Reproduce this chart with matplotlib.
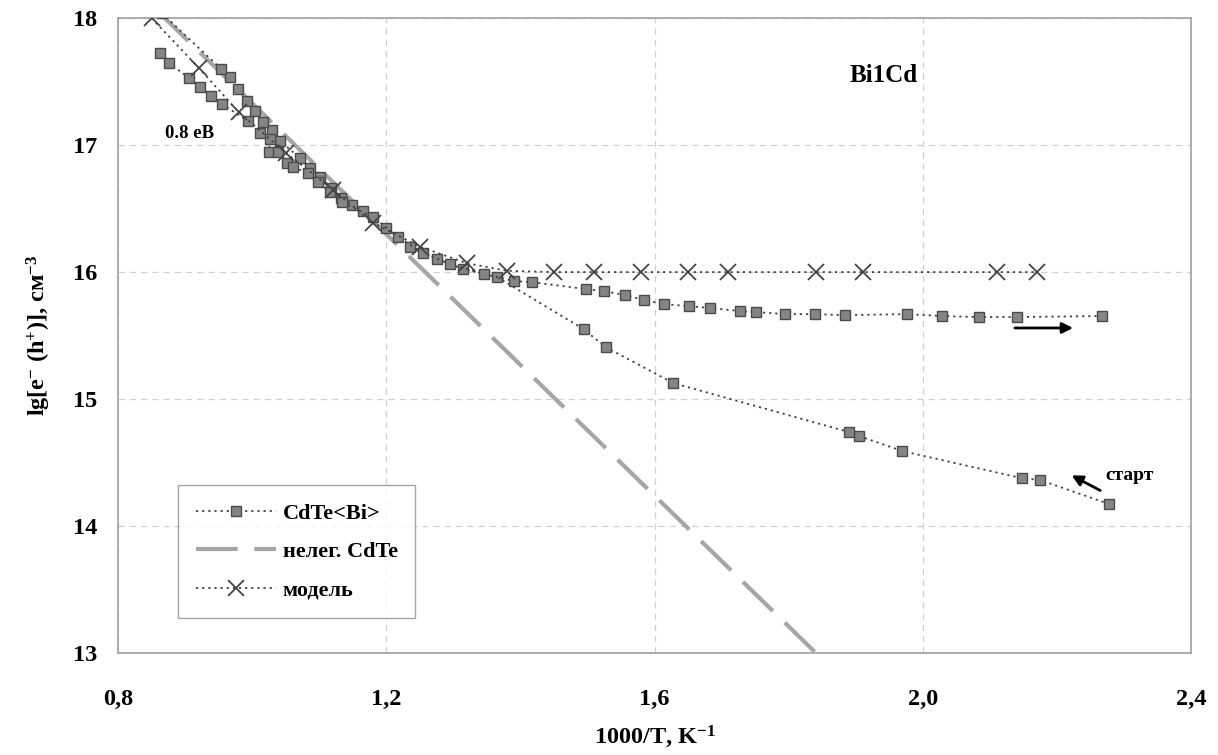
import matplotlib
matplotlib.use("Agg")
import matplotlib.pyplot as plt

plt.rcParams['font.family'] = ['Liberation Serif', 'DejaVu Serif']
plt.rcParams['font.weight'] = 'bold'
plt.rcParams['mathtext.fontset'] = 'custom'
plt.rcParams['mathtext.rm'] = 'Liberation Serif:bold'
plt.rcParams['mathtext.bf'] = 'Liberation Serif:bold'
plt.rcParams['mathtext.it'] = 'Liberation Serif:bold'

# CdTe<Bi> heating branch (from start, right to left)
heat_x = [2.278, 2.175, 2.147, 1.969, 1.905, 1.890, 1.628, 1.527, 1.494, 1.365,
          1.314, 1.276, 1.235, 1.200, 1.165, 1.149, 1.133, 1.118, 1.101, 1.086,
          1.071, 1.042, 1.030, 1.016, 1.004, 0.992, 0.979, 0.967, 0.954, 0.865]
heat_y = [14.173, 14.362, 14.378, 14.591, 14.709, 14.740, 15.126, 15.409, 15.551, 15.961,
          16.024, 16.102, 16.197, 16.346, 16.480, 16.528, 16.583, 16.661, 16.748, 16.819,
          16.898, 17.031, 17.118, 17.181, 17.268, 17.346, 17.441, 17.535, 17.598, 18.04]

# CdTe<Bi> cooling branch (left to right)
cool_x = [0.863, 0.876, 0.906, 0.922, 0.939, 0.955, 0.994, 1.012, 1.027, 1.025,
          1.039, 1.052, 1.061, 1.083, 1.098, 1.116, 1.134, 1.180, 1.218, 1.255,
          1.295, 1.346, 1.391, 1.417, 1.498, 1.525, 1.556, 1.584, 1.614, 1.651,
          1.683, 1.728, 1.751, 1.795, 1.839, 1.884, 1.977, 2.029, 2.084, 2.141, 2.267]
cool_y = [17.724, 17.646, 17.528, 17.457, 17.386, 17.323, 17.189, 17.094, 17.047, 16.945,
          16.945, 16.858, 16.827, 16.780, 16.709, 16.630, 16.551, 16.433, 16.276, 16.150,
          16.063, 15.984, 15.929, 15.921, 15.866, 15.850, 15.819, 15.780, 15.748, 15.732,
          15.717, 15.693, 15.685, 15.669, 15.669, 15.661, 15.669, 15.654, 15.646, 15.646, 15.654]

# undoped CdTe (straight line)
undoped_x = [0.86, 1.86]
undoped_y = [18.05, 12.90]

# model
model_x = [0.85, 0.92, 0.98, 1.05, 1.12, 1.18, 1.25, 1.32, 1.38, 1.45,
           1.51, 1.58, 1.65, 1.71, 1.84, 1.91, 2.11, 2.17]
model_y = [18.0, 17.61, 17.26, 16.94, 16.65, 16.39, 16.20, 16.07, 16.01, 16.0,
           16.0, 16.0, 16.0, 16.0, 16.0, 16.0, 16.0, 16.0]

x_ticks = [0.8, 1.2, 1.6, 2.0, 2.4]
x_tick_labels = ['0,8', '1,2', '1,6', '2,0', '2,4']
y_ticks = [13, 14, 15, 16, 17, 18]

fig = plt.figure(figsize=(12.18, 7.55), dpi=100)
ax = fig.add_axes([0.0969, 0.135, 0.8811, 0.841])

sq = dict(color='#404040', linestyle=(0, (1.2, 2.2)), linewidth=1.3,
          marker='s', markersize=7.5, markerfacecolor='#858585',
          markeredgecolor='#4a4a4a', markeredgewidth=1.0)
ax.plot(heat_x, heat_y, label='CdTe<Bi>', zorder=4, **sq)
ax.plot(cool_x, cool_y, zorder=4, **sq)

ax.plot(undoped_x, undoped_y, color='#a6a6a6', linewidth=3,
        linestyle=(0, (10, 4)), label='нелег. CdTe', zorder=3)

ax.plot(model_x, model_y, color='#404040', linestyle=(0, (1.2, 2.2)), linewidth=1.3,
        marker='x', markersize=12, markeredgewidth=1.3, markeredgecolor='#454545',
        label='модель', zorder=5)

ax.set_xlim(0.8, 2.4)
ax.set_ylim(13, 18)
ax.set_xticks(x_ticks)
ax.set_xticklabels(x_tick_labels)
ax.set_yticks(y_ticks)
ax.tick_params(length=0, labelsize=17.5)
ax.tick_params(axis='x', pad=26)
ax.tick_params(axis='y', pad=15)
for lab in ax.get_xticklabels() + ax.get_yticklabels():
    lab.set_fontweight('bold')

ax.grid(True, color='#d0d0d0', linestyle=(0, (5, 4)), linewidth=0.9)
for s in ax.spines.values():
    s.set_color('#a0a0a0')
    s.set_linewidth(1.2)

ax.set_xlabel('1000/T, K$^{-1}$', fontsize=17.5, fontweight='bold', labelpad=10)
ax.set_ylabel('lg[e$^{-}$ (h$^{+}$)], см$^{-3}$', fontsize=17.5, fontweight='bold', labelpad=14)

ax.text(1.89, 17.55, 'Bi1Cd', fontsize=18, fontweight='bold', ha='left', va='center')
ax.text(0.87, 17.09, '0.8 еВ', fontsize=13.5, fontweight='bold', ha='left', va='center')
ax.text(2.272, 14.40, 'старт', fontsize=14, fontweight='bold', ha='left', va='center')

ax.annotate('', xy=(2.218, 14.41), xytext=(2.268, 14.27),
            arrowprops=dict(arrowstyle='-|>', color='black', lw=2, mutation_scale=16))
ax.annotate('', xy=(2.228, 15.56), xytext=(2.133, 15.56),
            arrowprops=dict(arrowstyle='-|>', color='black', lw=2, mutation_scale=16))

leg = ax.legend(loc='lower left', bbox_to_anchor=(0.056, 0.055), fontsize=16,
                handlelength=3.6, frameon=True, fancybox=False, borderpad=0.8,
                labelspacing=0.8, handletextpad=0.3, borderaxespad=0)
leg.get_frame().set_edgecolor('#909090')
leg.get_frame().set_linewidth(1.0)
for t in leg.get_texts():
    t.set_fontweight('bold')

fig.savefig('out.png', dpi=100)
